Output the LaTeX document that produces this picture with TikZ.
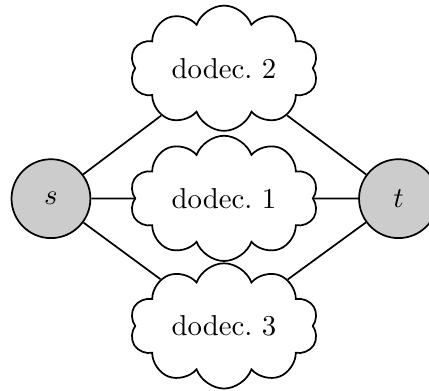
\documentclass[tikz,border=0pt]{standalone}
\usetikzlibrary{shapes.symbols}
\begin{document}
\begin{tikzpicture}[x=1pt,y=1pt,
  term/.style={circle,draw,fill=black!20,semithick,minimum size=27.4pt,inner sep=0pt},
  dodec/.style={cloud,draw,fill=white,semithick,cloud puffs=10,cloud puff arc=140,aspect=2,minimum width=65.5pt,minimum height=43.5pt,inner sep=1pt},
  link/.style={semithick}]
\useasboundingbox (0,0) rectangle (149,-135.8);
\node[term] (s) at (17.7,-69) {$s$};
\node[term] (t) at (138.4,-69) {$t$};
\node[dodec] (d2) at (77.8,-23.7) {dodec.\ 2};
\node[dodec] (d1) at (77.8,-68.9) {dodec.\ 1};
\node[dodec] (d3) at (77.8,-113.2) {dodec.\ 3};
\draw[link] (s) -- (d1) (s) -- (d2) (s) -- (d3);
\draw[link] (t) -- (d1) (t) -- (d2) (t) -- (d3);
\end{tikzpicture}
\end{document}
